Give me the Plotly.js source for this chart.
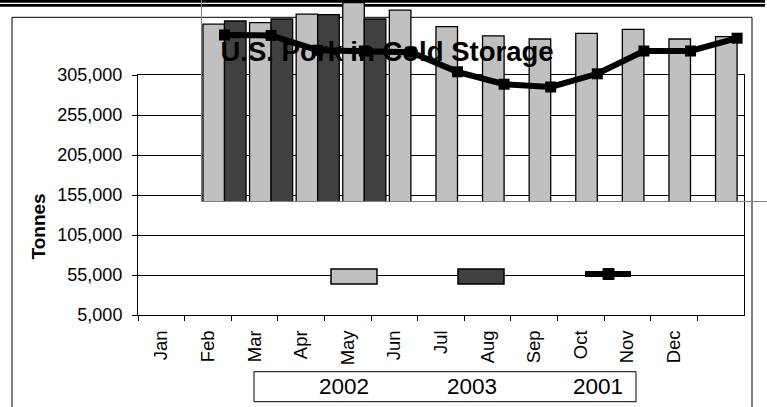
<!DOCTYPE html>
<html>
<head>
<meta charset="utf-8">
<script src="https://cdn.plot.ly/plotly-3.0.1.min.js"></script>
<style>html,body{margin:0;padding:0;background:#fff;}#chart{width:767px;height:407px;}</style>
</head>
<body>
<div id="chart"></div>
<script>
// ---- data ----
const months = ['Jan','Feb','Mar','Apr','May','Jun','Jul','Aug','Sep','Oct','Nov','Dec'];
const tonnes2002 = [226000, 228000, 238500, 253000, 243500, 223000, 211500, 207500, 214500, 219500, 207500, 210500];
const months2003 = ['Jan','Feb','Mar','Apr'];
const tonnes2003 = [230000, 232500, 238000, 232500];
const tonnes2001 = [212500, 212000, 193500, 192500, 191000, 166500, 151000, 147500, 164000, 192500, 192500, 208500];
const seriesNames = ['2002', '2003', '2001'];
const chartTitle = 'U.S. Pork in Cold Storage';
const yTitle = 'Tonnes';

// ---- layout helpers ----
const W = 767, H = 407;
const px = x => x / W;
const py = y => 1 - y / H;
const FONT = 'Liberation Sans, Arial, sans-serif';
const LIGHT = '#c0c0c0', DARK = '#404040';

const catW = 46.6;            // width of one month slot in the overlaid region
const firstCenter = 224.5;    // pixel centre of first slot
const ovLeft = 202, ovBottom = 201;

const traces = [
  { type: 'scatter', x: months, y: months.map(() => null), xaxis: 'x', yaxis: 'y',
    mode: 'markers', showlegend: false, hoverinfo: 'skip' },
  { type: 'bar', name: seriesNames[0], x: months, y: tonnes2002, xaxis: 'x2', yaxis: 'y2',
    marker: { color: LIGHT, line: { color: '#000', width: 1.3 } } },
  { type: 'bar', name: seriesNames[1], x: months2003, y: tonnes2003, xaxis: 'x2', yaxis: 'y2',
    marker: { color: DARK, line: { color: '#000', width: 1.3 } } },
  { type: 'scatter', name: seriesNames[2], x: months, y: tonnes2001, xaxis: 'x2', yaxis: 'y2',
    mode: 'lines+markers', line: { color: '#000', width: 6 },
    marker: { symbol: 'square', size: 11, color: '#000' }, cliponaxis: false }
];

const shapes = [
  // top double rule
  { type: 'line', xref: 'paper', yref: 'paper', x0: 0, x1: px(765), y0: py(1.3), y1: py(1.3), line: { color: '#000', width: 2.7 }, layer: 'below' },
  { type: 'line', xref: 'paper', yref: 'paper', x0: 0, x1: px(765), y0: py(5.4), y1: py(5.4), line: { color: '#000', width: 2.7 }, layer: 'below' },
  // outer frame
  { type: 'rect', xref: 'paper', yref: 'paper', x0: px(12), x1: px(752), y0: py(430), y1: py(17.3), line: { color: '#000', width: 1 }, layer: 'below' },
  // legend swatches
  { type: 'rect', xref: 'paper', yref: 'paper', x0: px(331), x1: px(377), y0: py(284), y1: py(269), fillcolor: LIGHT, line: { color: '#000', width: 1.5 } },
  { type: 'rect', xref: 'paper', yref: 'paper', x0: px(458), x1: px(504), y0: py(284), y1: py(269), fillcolor: DARK, line: { color: '#000', width: 1.5 } },
  { type: 'line', xref: 'paper', yref: 'paper', x0: px(585), x1: px(631), y0: py(274), y1: py(274), line: { color: '#000', width: 6 } },
  { type: 'rect', xref: 'paper', yref: 'paper', x0: px(603), x1: px(614), y0: py(279.5), y1: py(268.5), fillcolor: '#000', line: { color: '#000', width: 1 } },
  // legend label box
  { type: 'rect', xref: 'paper', yref: 'paper', x0: px(254), x1: px(636), y0: py(401.7), y1: py(371.7), line: { color: '#000', width: 1 }, fillcolor: 'rgba(0,0,0,0)' }
];

const legendX = [344, 472, 598];
const annotations = [
  { text: '<b>' + yTitle + '</b>', xref: 'paper', yref: 'paper', x: px(38), y: py(226.5), textangle: -90,
    showarrow: false, xanchor: 'center', yanchor: 'middle', font: { family: FONT, size: 19, color: '#000' } }
].concat(seriesNames.map((n, i) => ({
  text: n, xref: 'paper', yref: 'paper', x: px(legendX[i]), y: py(386), showarrow: false,
  xanchor: 'center', yanchor: 'middle', font: { family: FONT, size: 22.5, color: '#000' }
})));

const layout = {
  width: W, height: H,
  margin: { l: 0, r: 0, t: 0, b: 0, pad: 0 },
  paper_bgcolor: '#fff', plot_bgcolor: 'rgba(0,0,0,0)',
  showlegend: false,
  barmode: 'group', bargap: 0.075, bargroupgap: 0,
  font: { family: FONT, color: '#000', size: 18 },
  title: { text: chartTitle, xref: 'paper', yref: 'paper', x: px(387), y: py(51), xanchor: 'center', yanchor: 'middle',
           font: { family: FONT, size: 27.5, color: '#000', weight: 'bold' } },
  xaxis: {
    domain: [px(138), px(744)], anchor: 'y', type: 'category', categoryorder: 'array', categoryarray: months,
    range: [-0.5, 12.5], tickson: 'boundaries', ticks: 'outside', ticklen: 5, tickcolor: '#000', tickwidth: 1,
    showline: true, linecolor: '#000', linewidth: 1, mirror: true, showgrid: false, zeroline: false,
    tickangle: -90, tickfont: { family: FONT, size: 18.5, color: '#000' }, ticklabelstandoff: 7
  },
  yaxis: {
    domain: [py(315), py(75)], anchor: 'x', range: [5000, 305000], tick0: 5000, dtick: 50000, tickformat: ',d',
    ticks: 'outside', ticklen: 5, tickcolor: '#000', showline: true, linecolor: '#000', linewidth: 1, mirror: true,
    showgrid: true, gridcolor: '#000', gridwidth: 1, zeroline: false,
    tickfont: { family: FONT, size: 18, color: '#000' }, ticklabelstandoff: 6
  },
  xaxis2: {
    domain: [px(ovLeft), 1], anchor: 'y2', type: 'category', categoryorder: 'array', categoryarray: months,
    range: [(ovLeft - firstCenter) / catW, (W - firstCenter) / catW],
    showline: true, linecolor: '#808080', linewidth: 1, ticks: '', showticklabels: false, showgrid: false, zeroline: false
  },
  yaxis2: {
    domain: [py(ovBottom), 1], anchor: 'x2', range: [5000, 5000 + ovBottom * 1250],
    showline: true, linecolor: '#808080', linewidth: 1, ticks: '', showticklabels: false, showgrid: false, zeroline: false
  },
  shapes: shapes,
  annotations: annotations
};

Plotly.newPlot('chart', traces, layout, { staticPlot: true, displayModeBar: false });
</script>
</body>
</html>
